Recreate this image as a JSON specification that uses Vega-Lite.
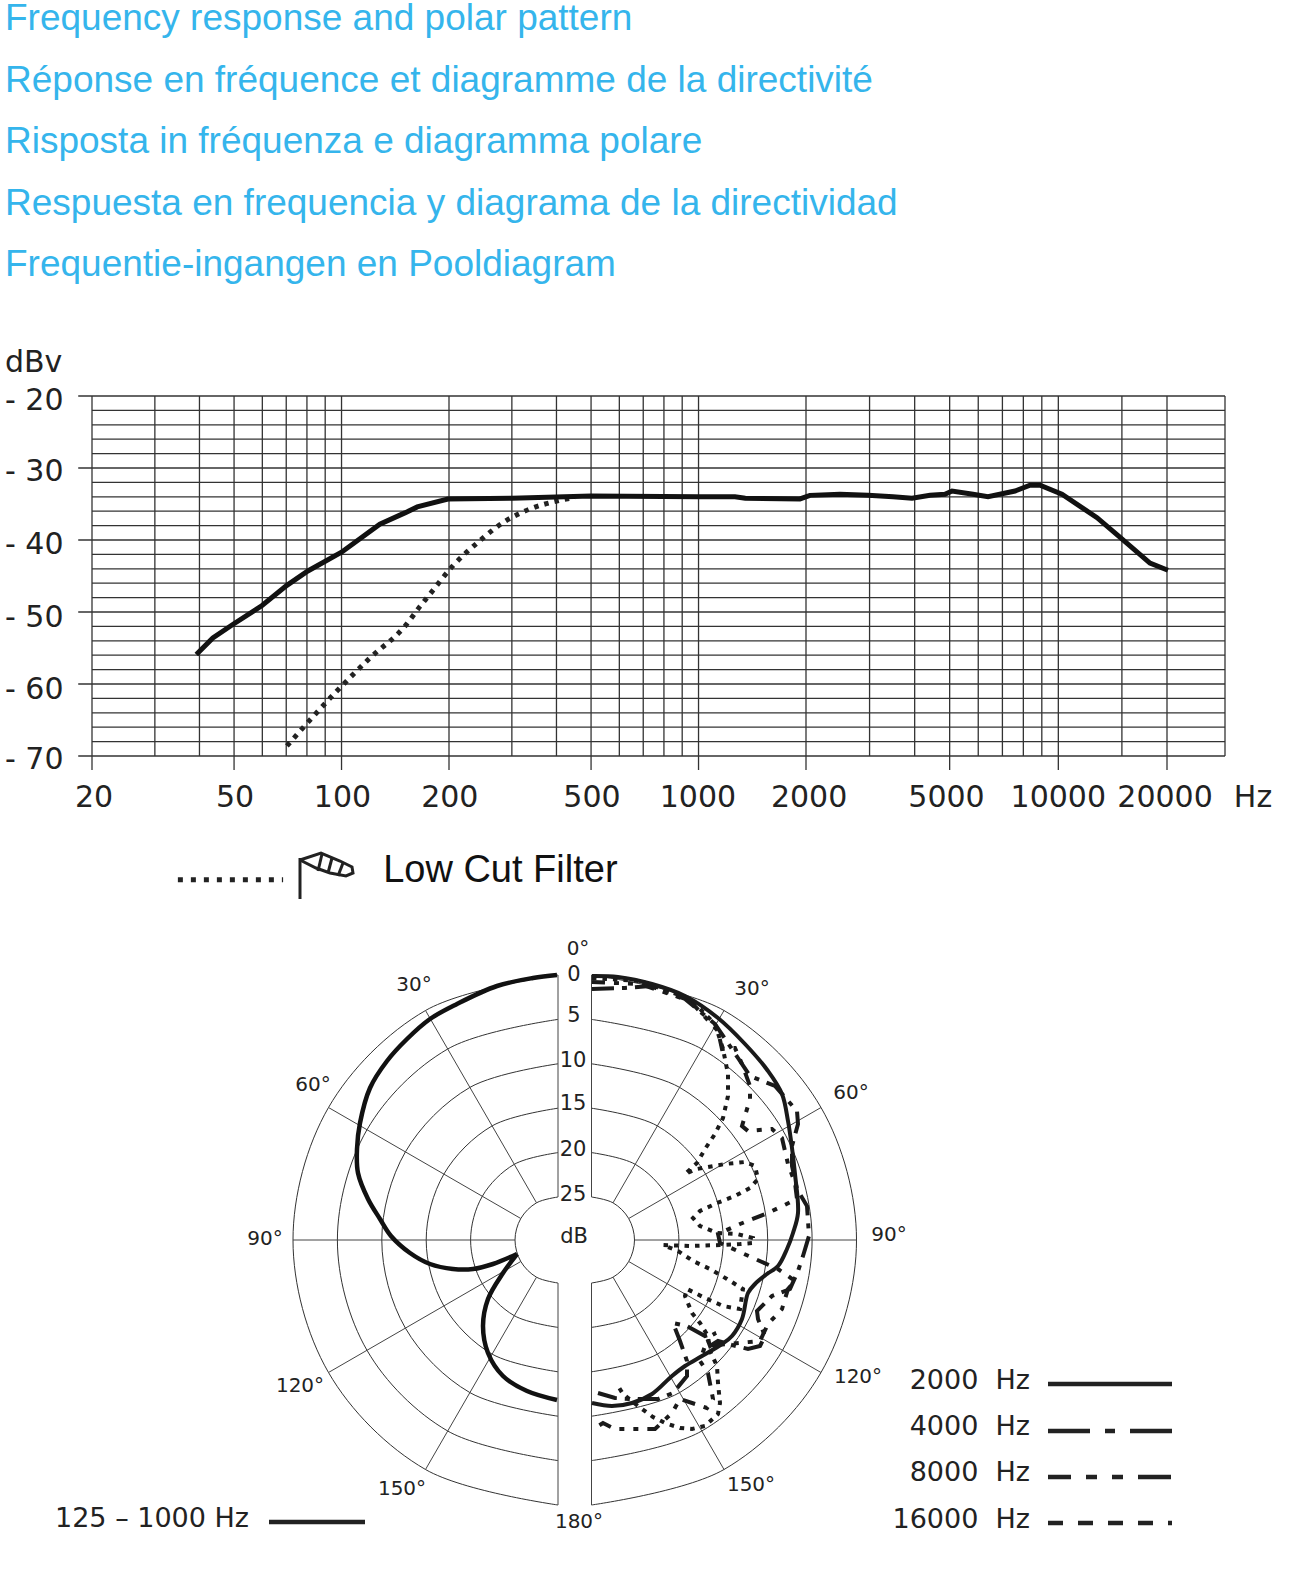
{"$schema":"https://vega.github.io/schema/vega-lite/v6.json","width":1299,"height":1270,"padding":0,"autosize":{"type":"pad","contains":"padding"},"background":"white","config":{"view":{"stroke":null}},
"title":{"text":["Frequency response and polar pattern","Réponse en fréquence et diagramme de la directivité","Risposta in fréquenza e diagramma polare","Respuesta en frequencia y diagrama de la directividad","Frequentie-ingangen en Pooldiagram"],"anchor":"start","frame":"group","font":"Liberation Sans","fontSize":37,"fontWeight":"normal","color":"#35B5EC","lineHeight":61.5,"dx":5,"offset":12},
"resolve":{"scale":{"x":"independent","y":"independent"}},
"layer":[
{"layer":[
{"data":{"values":[{"db":-20,"left":18.3,"right":29000},{"db":-22,"left":20,"right":29000},{"db":-24,"left":20,"right":29000},{"db":-26,"left":20,"right":29000},{"db":-28,"left":20,"right":29000},{"db":-30,"left":18.3,"right":29000},{"db":-32,"left":20,"right":29000},{"db":-34,"left":20,"right":29000},{"db":-36,"left":20,"right":29000},{"db":-38,"left":20,"right":29000},{"db":-40,"left":18.3,"right":29000},{"db":-42,"left":20,"right":29000},{"db":-44,"left":20,"right":29000},{"db":-46,"left":20,"right":29000},{"db":-48,"left":20,"right":29000},{"db":-50,"left":18.3,"right":29000},{"db":-52,"left":20,"right":29000},{"db":-54,"left":20,"right":29000},{"db":-56,"left":20,"right":29000},{"db":-58,"left":20,"right":29000},{"db":-60,"left":18.3,"right":29000},{"db":-62,"left":20,"right":29000},{"db":-64,"left":20,"right":29000},{"db":-66,"left":20,"right":29000},{"db":-68,"left":20,"right":29000},{"db":-70,"left":18.3,"right":29000}]},
"mark":{"type":"rule","color":"#333333","strokeWidth":1.3},
"encoding":{"x":{"field":"left","type":"quantitative","axis":null,"scale":{"type":"log","domain":[20,2000,20000,29000],"range":[92,806,1167,1225]}},"x2":{"field":"right"},"y":{"field":"db","type":"quantitative","axis":null,"scale":{"domain":[-70,-20],"range":[460,100]}}}},
{"data":{"values":[{"f":20,"top":-20,"bottom":-71.94},{"f":30,"top":-20,"bottom":-70},{"f":40,"top":-20,"bottom":-70},{"f":50,"top":-20,"bottom":-71.94},{"f":60,"top":-20,"bottom":-70},{"f":70,"top":-20,"bottom":-70},{"f":80,"top":-20,"bottom":-70},{"f":90,"top":-20,"bottom":-70},{"f":100,"top":-20,"bottom":-71.94},{"f":200,"top":-20,"bottom":-71.94},{"f":300,"top":-20,"bottom":-70},{"f":400,"top":-20,"bottom":-70},{"f":500,"top":-20,"bottom":-71.94},{"f":600,"top":-20,"bottom":-70},{"f":700,"top":-20,"bottom":-70},{"f":800,"top":-20,"bottom":-70},{"f":900,"top":-20,"bottom":-70},{"f":1000,"top":-20,"bottom":-71.94},{"f":2000,"top":-20,"bottom":-71.94},{"f":3000,"top":-20,"bottom":-70},{"f":4000,"top":-20,"bottom":-70},{"f":5000,"top":-20,"bottom":-71.94},{"f":6000,"top":-20,"bottom":-70},{"f":7000,"top":-20,"bottom":-70},{"f":8000,"top":-20,"bottom":-70},{"f":9000,"top":-20,"bottom":-70},{"f":10000,"top":-20,"bottom":-71.94},{"f":15000,"top":-20,"bottom":-70},{"f":20000,"top":-20,"bottom":-71.94},{"f":29000,"top":-20,"bottom":-70}]},
"mark":{"type":"rule","color":"#333333","strokeWidth":1.3},
"encoding":{"x":{"field":"f","type":"quantitative","axis":null,"scale":{"type":"log","domain":[20,2000,20000,29000],"range":[92,806,1167,1225]}},"y":{"field":"top","type":"quantitative","axis":null,"scale":{"domain":[-70,-20],"range":[460,100]}},"y2":{"field":"bottom"}}},
{"data":{"values":[{"f":70.3,"db":-68.6},{"f":97.8,"db":-60.8},{"f":120,"db":-56.4},{"f":151,"db":-51.9},{"f":166,"db":-49.2},{"f":175,"db":-47.8},{"f":205,"db":-43.6},{"f":244,"db":-40.1},{"f":287,"db":-37.4},{"f":337,"db":-35.7},{"f":409,"db":-34.5},{"f":451,"db":-34.1}]},
"mark":{"type":"line","color":"#222222","strokeWidth":5,"strokeDash":[4.5,6],"interpolate":"monotone"},
"encoding":{"x":{"field":"f","type":"quantitative","axis":null,"scale":{"type":"log","domain":[20,2000,20000,29000],"range":[92,806,1167,1225]}},"y":{"field":"db","type":"quantitative","axis":null,"scale":{"domain":[-70,-20],"range":[460,100]}}}},
{"data":{"values":[{"f":39.2,"db":-55.9},{"f":43.6,"db":-53.6},{"f":49.7,"db":-51.7},{"f":59.9,"db":-49.1},{"f":70.3,"db":-46.3},{"f":80.5,"db":-44.3},{"f":100,"db":-41.7},{"f":128,"db":-37.8},{"f":151,"db":-36.2},{"f":163,"db":-35.4},{"f":198.6,"db":-34.3},{"f":300,"db":-34.2},{"f":500,"db":-33.9},{"f":1000,"db":-34},{"f":1265,"db":-34},{"f":1352,"db":-34.2},{"f":1923,"db":-34.3},{"f":2051,"db":-33.8},{"f":2484,"db":-33.65},{"f":2969,"db":-33.8},{"f":3484,"db":-34},{"f":3933,"db":-34.2},{"f":4412,"db":-33.8},{"f":4853,"db":-33.65},{"f":5076,"db":-33.2},{"f":5804,"db":-33.65},{"f":6386,"db":-34},{"f":7586,"db":-33.2},{"f":8348,"db":-32.4},{"f":8899,"db":-32.4},{"f":10234,"db":-33.65},{"f":12800,"db":-36.9},{"f":14640,"db":-39.4},{"f":17940,"db":-43.2},{"f":20120,"db":-44.2}]},
"mark":{"type":"line","color":"#111111","strokeWidth":5},
"encoding":{"x":{"field":"f","type":"quantitative","axis":null,"scale":{"type":"log","domain":[20,2000,20000,29000],"range":[92,806,1167,1225]}},"y":{"field":"db","type":"quantitative","axis":null,"scale":{"domain":[-70,-20],"range":[460,100]}}}},
{"data":{"values":[{"label":"20","f":20.26,"db":-75.8},{"label":"50","f":50.3,"db":-75.8},{"label":"100","f":100.6,"db":-75.8},{"label":"200","f":201,"db":-75.8},{"label":"500","f":503,"db":-75.8},{"label":"1000","f":996,"db":-75.8},{"label":"2000","f":2040,"db":-75.8},{"label":"5000","f":4900,"db":-75.8},{"label":"10000","f":10000,"db":-75.8},{"label":"20000","f":19750,"db":-75.8},{"label":"Hz","f":34700,"db":-75.8}]},
"mark":{"type":"text","font":"DejaVu Sans","fontSize":30,"color":"#222222","align":"center","baseline":"middle"},
"encoding":{"x":{"field":"f","type":"quantitative","axis":null,"scale":{"type":"log","domain":[20,2000,20000,29000],"range":[92,806,1167,1225]}},"y":{"field":"db","type":"quantitative","axis":null,"scale":{"domain":[-70,-20],"range":[460,100]}},"text":{"field":"label","type":"nominal"}}},
{"data":{"values":[{"label":"dBv","f":20,"db":-15.4},{"label":"- 20","f":20,"db":-20.7},{"label":"- 30","f":20,"db":-30.55},{"label":"- 40","f":20,"db":-40.7},{"label":"- 50","f":20,"db":-50.8},{"label":"- 60","f":20,"db":-60.8},{"label":"- 70","f":20,"db":-70.55}]},
"mark":{"type":"text","font":"DejaVu Sans","fontSize":30,"color":"#222222","align":"left","baseline":"middle","dx":-87},
"encoding":{"x":{"field":"f","type":"quantitative","axis":null,"scale":{"type":"log","domain":[20,2000,20000,29000],"range":[92,806,1167,1225]}},"y":{"field":"db","type":"quantitative","axis":null,"scale":{"domain":[-70,-20],"range":[460,100]}},"text":{"field":"label","type":"nominal"}}},
{"data":{"values":[{"f":34.8,"f2":68.6,"db":-87.2}]},
"mark":{"type":"rule","color":"#222222","strokeWidth":5,"strokeDash":[5,8]},
"encoding":{"x":{"field":"f","type":"quantitative","axis":null,"scale":{"type":"log","domain":[20,2000,20000,29000],"range":[92,806,1167,1225]}},"x2":{"field":"f2"},"y":{"field":"db","type":"quantitative","axis":null,"scale":{"domain":[-70,-20],"range":[460,100]}}}},
{"data":{"values":[{"label":"Low Cut Filter","f":130.8,"db":-86}]},
"mark":{"type":"text","font":"Liberation Sans","fontSize":38,"color":"#111111","align":"left","baseline":"middle"},
"encoding":{"x":{"field":"f","type":"quantitative","axis":null,"scale":{"type":"log","domain":[20,2000,20000,29000],"range":[92,806,1167,1225]}},"y":{"field":"db","type":"quantitative","axis":null,"scale":{"domain":[-70,-20],"range":[460,100]}},"text":{"field":"label","type":"nominal"}}}
]},
{"layer":[
{"data":{"values":[
{"s":"R0","x":16.5,"y":265},{"s":"R0","x":149,"y":229.5},{"s":"R0","x":246,"y":132.5},{"s":"R0","x":281.5,"y":0},{"s":"R0","x":246,"y":-132.5},{"s":"R0","x":149,"y":-229.5},{"s":"R0","x":16.5,"y":-265},
{"s":"R5","x":16.5,"y":220.6},{"s":"R5","x":126.8,"y":191},{"s":"R5","x":207.5,"y":110.3},{"s":"R5","x":237.1,"y":0},{"s":"R5","x":207.5,"y":-110.3},{"s":"R5","x":126.8,"y":-191},{"s":"R5","x":16.5,"y":-220.6},
{"s":"R10","x":16.5,"y":176.2},{"s":"R10","x":104.6,"y":152.6},{"s":"R10","x":169.1,"y":88.1},{"s":"R10","x":192.7,"y":0},{"s":"R10","x":169.1,"y":-88.1},{"s":"R10","x":104.6,"y":-152.6},{"s":"R10","x":16.5,"y":-176.2},
{"s":"R15","x":16.5,"y":131.8},{"s":"R15","x":82.4,"y":114.1},{"s":"R15","x":130.6,"y":65.9},{"s":"R15","x":148.3,"y":0},{"s":"R15","x":130.6,"y":-65.9},{"s":"R15","x":82.4,"y":-114.1},{"s":"R15","x":16.5,"y":-131.8},
{"s":"R20","x":16.5,"y":87.4},{"s":"R20","x":60.2,"y":75.7},{"s":"R20","x":92.2,"y":43.7},{"s":"R20","x":103.9,"y":0},{"s":"R20","x":92.2,"y":-43.7},{"s":"R20","x":60.2,"y":-75.7},{"s":"R20","x":16.5,"y":-87.4},
{"s":"R25","x":16.5,"y":43},{"s":"R25","x":38,"y":37.2},{"s":"R25","x":53.7,"y":21.5},{"s":"R25","x":59.5,"y":0},{"s":"R25","x":53.7,"y":-21.5},{"s":"R25","x":38,"y":-37.2},{"s":"R25","x":16.5,"y":-43},
{"s":"L0","x":-17,"y":265},{"s":"L0","x":-149.5,"y":229.5},{"s":"L0","x":-246.5,"y":132.5},{"s":"L0","x":-282,"y":0},{"s":"L0","x":-246.5,"y":-132.5},{"s":"L0","x":-149.5,"y":-229.5},{"s":"L0","x":-17,"y":-265},
{"s":"L5","x":-17,"y":220.6},{"s":"L5","x":-127.3,"y":191},{"s":"L5","x":-208,"y":110.3},{"s":"L5","x":-237.6,"y":0},{"s":"L5","x":-208,"y":-110.3},{"s":"L5","x":-127.3,"y":-191},{"s":"L5","x":-17,"y":-220.6},
{"s":"L10","x":-17,"y":176.2},{"s":"L10","x":-105.1,"y":152.6},{"s":"L10","x":-169.6,"y":88.1},{"s":"L10","x":-193.2,"y":0},{"s":"L10","x":-169.6,"y":-88.1},{"s":"L10","x":-105.1,"y":-152.6},{"s":"L10","x":-17,"y":-176.2},
{"s":"L15","x":-17,"y":131.8},{"s":"L15","x":-82.9,"y":114.1},{"s":"L15","x":-131.1,"y":65.9},{"s":"L15","x":-148.8,"y":0},{"s":"L15","x":-131.1,"y":-65.9},{"s":"L15","x":-82.9,"y":-114.1},{"s":"L15","x":-17,"y":-131.8},
{"s":"L20","x":-17,"y":87.4},{"s":"L20","x":-60.7,"y":75.7},{"s":"L20","x":-92.7,"y":43.7},{"s":"L20","x":-104.4,"y":0},{"s":"L20","x":-92.7,"y":-43.7},{"s":"L20","x":-60.7,"y":-75.7},{"s":"L20","x":-17,"y":-87.4},
{"s":"L25","x":-17,"y":43},{"s":"L25","x":-38.5,"y":37.2},{"s":"L25","x":-54.2,"y":21.5},{"s":"L25","x":-60,"y":0},{"s":"L25","x":-54.2,"y":-21.5},{"s":"L25","x":-38.5,"y":-37.2},{"s":"L25","x":-17,"y":-43}]},
"mark":{"type":"line","color":"#333333","strokeWidth":1,"interpolate":"catmull-rom"},
"encoding":{"x":{"field":"x","type":"quantitative","axis":null,"scale":{"domain":[-300,300],"range":[275,875]}},"y":{"field":"y","type":"quantitative","axis":null,"scale":{"domain":[-300,300],"range":[1244,644]}},"detail":{"field":"s"},"order":{"value":null}}},
{"data":{"values":[{"x":38,"y":37.2,"x2":149,"y2":229.5},{"x":53.7,"y":21.5,"x2":246,"y2":132.5},{"x":59.5,"y":0,"x2":281.5,"y2":0},{"x":53.7,"y":-21.5,"x2":246,"y2":-132.5},{"x":38,"y":-37.2,"x2":149,"y2":-229.5},{"x":-38.5,"y":37.2,"x2":-149.5,"y2":229.5},{"x":-54.2,"y":21.5,"x2":-246.5,"y2":132.5},{"x":-60,"y":0,"x2":-282,"y2":0},{"x":-54.2,"y":-21.5,"x2":-246.5,"y2":-132.5},{"x":-38.5,"y":-37.2,"x2":-149.5,"y2":-229.5},{"x":16.5,"y":43,"x2":16.5,"y2":265},{"x":16.5,"y":-43,"x2":16.5,"y2":-265},{"x":-17,"y":43,"x2":-17,"y2":265},{"x":-17,"y":-43,"x2":-17,"y2":-265}]},
"mark":{"type":"rule","color":"#444444","strokeWidth":1},
"encoding":{"x":{"field":"x","type":"quantitative","axis":null,"scale":{"domain":[-300,300],"range":[275,875]}},"x2":{"field":"x2"},"y":{"field":"y","type":"quantitative","axis":null,"scale":{"domain":[-300,300],"range":[1244,644]}},"y2":{"field":"y2"}}},
{"data":{"values":[
{"s":"a","x":-18,"y":265},{"s":"a","x":-42,"y":262},{"s":"a","x":-78,"y":254},{"s":"a","x":-118,"y":236},{"s":"a","x":-145,"y":221},{"s":"a","x":-168,"y":201},{"s":"a","x":-188,"y":179},{"s":"a","x":-205,"y":152},{"s":"a","x":-215,"y":117},{"s":"a","x":-218,"y":91},{"s":"a","x":-217,"y":67},{"s":"a","x":-207,"y":41},{"s":"a","x":-195,"y":21},{"s":"a","x":-184,"y":4},{"s":"a","x":-165,"y":-13},{"s":"a","x":-145,"y":-24},{"s":"a","x":-122,"y":-29},{"s":"a","x":-102,"y":-29},{"s":"a","x":-82,"y":-24},{"s":"a","x":-58,"y":-14},
{"s":"b","x":-58,"y":-14},{"s":"b","x":-72,"y":-33},{"s":"b","x":-87,"y":-59},{"s":"b","x":-92,"y":-86},{"s":"b","x":-87,"y":-113},{"s":"b","x":-72,"y":-136},{"s":"b","x":-48,"y":-151},{"s":"b","x":-18,"y":-160}]},
"mark":{"type":"line","color":"#111111","strokeWidth":4.5,"interpolate":"catmull-rom"},
"encoding":{"x":{"field":"x","type":"quantitative","axis":null,"scale":{"domain":[-300,300],"range":[275,875]}},"y":{"field":"y","type":"quantitative","axis":null,"scale":{"domain":[-300,300],"range":[1244,644]}},"detail":{"field":"s"},"order":{"value":null}}},
{"data":{"values":[
{"x":17,"y":262},{"x":65,"y":259},{"x":115,"y":241},{"x":140,"y":216},{"x":148,"y":191},{"x":153,"y":166},{"x":153,"y":144},{"x":148,"y":122},{"x":140,"y":106},{"x":130,"y":91},{"x":122,"y":77},{"x":110,"y":66},{"x":122,"y":71},{"x":150,"y":76},{"x":170,"y":78},{"x":180,"y":74},{"x":183,"y":61},{"x":175,"y":52},{"x":160,"y":44},{"x":142,"y":37},{"x":125,"y":29},{"x":118,"y":22},{"x":125,"y":14},{"x":142,"y":7},{"x":162,"y":6},{"x":178,"y":2},{"x":178,"y":-3},{"x":165,"y":-4},{"x":145,"y":-5},{"x":115,"y":-6},{"x":88,"y":-5},{"x":103,"y":-11},{"x":118,"y":-21},{"x":135,"y":-29},{"x":152,"y":-39},{"x":168,"y":-49},{"x":165,"y":-69},{"x":148,"y":-66},{"x":130,"y":-58},{"x":112,"y":-49},{"x":110,"y":-56},{"x":117,"y":-73},{"x":125,"y":-83},{"x":133,"y":-96},{"x":135,"y":-111},{"x":142,"y":-126},{"x":143,"y":-143},{"x":145,"y":-163},{"x":143,"y":-174},{"x":130,"y":-186},{"x":117,"y":-189},{"x":105,"y":-188},{"x":90,"y":-183},{"x":78,"y":-177},{"x":63,"y":-166},{"x":48,"y":-154},{"x":43,"y":-146}]},
"mark":{"type":"line","color":"#1a1a1a","strokeWidth":4,"strokeDash":[4.5,6]},
"encoding":{"x":{"field":"x","type":"quantitative","axis":null,"scale":{"domain":[-300,300],"range":[275,875]}},"y":{"field":"y","type":"quantitative","axis":null,"scale":{"domain":[-300,300],"range":[1244,644]}},"order":{"value":null}}},
{"data":{"values":[
{"x":17,"y":258},{"x":65,"y":256},{"x":115,"y":239},{"x":143,"y":209},{"x":147,"y":191},{"x":160,"y":192},{"x":167,"y":176},{"x":175,"y":154},{"x":175,"y":141},{"x":167,"y":114},{"x":173,"y":109},{"x":197,"y":111},{"x":207,"y":102},{"x":213,"y":76},{"x":220,"y":57},{"x":222,"y":41},{"x":193,"y":27},{"x":165,"y":16},{"x":143,"y":6},{"x":145,"y":-3},{"x":178,"y":-18},{"x":203,"y":-29},{"x":220,"y":-41},{"x":213,"y":-49},{"x":207,"y":-69},{"x":193,"y":-84},{"x":185,"y":-101},{"x":130,"y":-106},{"x":125,"y":-121},{"x":133,"y":-133},{"x":138,"y":-159},{"x":132,"y":-168},{"x":105,"y":-159},{"x":97,"y":-173},{"x":80,"y":-189},{"x":40,"y":-189},{"x":28,"y":-183},{"x":20,"y":-188}]},
"mark":{"type":"line","color":"#1a1a1a","strokeWidth":4,"strokeDash":[13,9,5,9,5,9]},
"encoding":{"x":{"field":"x","type":"quantitative","axis":null,"scale":{"domain":[-300,300],"range":[275,875]}},"y":{"field":"y","type":"quantitative","axis":null,"scale":{"domain":[-300,300],"range":[1244,644]}},"order":{"value":null}}},
{"data":{"values":[
{"x":17,"y":251},{"x":50,"y":252},{"x":75,"y":254},{"x":110,"y":241},{"x":140,"y":216},{"x":163,"y":182},{"x":175,"y":164},{"x":200,"y":154},{"x":222,"y":129},{"x":223,"y":116},{"x":217,"y":94},{"x":217,"y":74},{"x":222,"y":51},{"x":232,"y":34},{"x":234,"y":4},{"x":228,"y":-16},{"x":223,"y":-31},{"x":215,"y":-49},{"x":197,"y":-56},{"x":182,"y":-71},{"x":183,"y":-79},{"x":190,"y":-96},{"x":185,"y":-106},{"x":173,"y":-109},{"x":157,"y":-105},{"x":143,"y":-101},{"x":135,"y":-106},{"x":132,"y":-98},{"x":141,"y":-93},{"x":130,"y":-96},{"x":112,"y":-86},{"x":98,"y":-83},{"x":105,"y":-101},{"x":112,"y":-121},{"x":112,"y":-136},{"x":98,"y":-153},{"x":83,"y":-159},{"x":55,"y":-159},{"x":40,"y":-158},{"x":23,"y":-153}]},
"mark":{"type":"line","color":"#1a1a1a","strokeWidth":4,"strokeDash":[22,8,5,8]},
"encoding":{"x":{"field":"x","type":"quantitative","axis":null,"scale":{"domain":[-300,300],"range":[275,875]}},"y":{"field":"y","type":"quantitative","axis":null,"scale":{"domain":[-300,300],"range":[1244,644]}},"order":{"value":null}}},
{"data":{"values":[
{"x":17,"y":264},{"x":43,"y":263},{"x":77,"y":256},{"x":110,"y":244},{"x":143,"y":222},{"x":170,"y":196},{"x":193,"y":169},{"x":207,"y":146},{"x":213,"y":119},{"x":217,"y":92},{"x":220,"y":66},{"x":223,"y":27},{"x":218,"y":7},{"x":212,"y":-9},{"x":203,"y":-26},{"x":192,"y":-34},{"x":180,"y":-44},{"x":173,"y":-53},{"x":167,"y":-79},{"x":157,"y":-96},{"x":147,"y":-104},{"x":127,"y":-116},{"x":110,"y":-126},{"x":97,"y":-136},{"x":77,"y":-154},{"x":57,"y":-163},{"x":37,"y":-166},{"x":17,"y":-163}]},
"mark":{"type":"line","color":"#1a1a1a","strokeWidth":4,"interpolate":"catmull-rom"},
"encoding":{"x":{"field":"x","type":"quantitative","axis":null,"scale":{"domain":[-300,300],"range":[275,875]}},"y":{"field":"y","type":"quantitative","axis":null,"scale":{"domain":[-300,300],"range":[1244,644]}},"order":{"value":null}}},
{"data":{"values":[{"x":473,"x2":597,"y":-144},{"x":-306,"x2":-210,"y":-282}]},
"mark":{"type":"rule","color":"#222222","strokeWidth":4.5},
"encoding":{"x":{"field":"x","type":"quantitative","axis":null,"scale":{"domain":[-300,300],"range":[275,875]}},"x2":{"field":"x2"},"y":{"field":"y","type":"quantitative","axis":null,"scale":{"domain":[-300,300],"range":[1244,644]}}}},
{"data":{"values":[{"x":473,"x2":597,"y":-191}]},
"mark":{"type":"rule","color":"#222222","strokeWidth":4.5,"strokeDash":[42,15,10,15]},
"encoding":{"x":{"field":"x","type":"quantitative","axis":null,"scale":{"domain":[-300,300],"range":[275,875]}},"x2":{"field":"x2"},"y":{"field":"y","type":"quantitative","axis":null,"scale":{"domain":[-300,300],"range":[1244,644]}}}},
{"data":{"values":[{"x":473,"x2":597,"y":-237}]},
"mark":{"type":"rule","color":"#222222","strokeWidth":4.5,"strokeDash":[23,15,11,15,11,15,33]},
"encoding":{"x":{"field":"x","type":"quantitative","axis":null,"scale":{"domain":[-300,300],"range":[275,875]}},"x2":{"field":"x2"},"y":{"field":"y","type":"quantitative","axis":null,"scale":{"domain":[-300,300],"range":[1244,644]}}}},
{"data":{"values":[{"x":473,"x2":597,"y":-283}]},
"mark":{"type":"rule","color":"#222222","strokeWidth":4.5,"strokeDash":[15,15]},
"encoding":{"x":{"field":"x","type":"quantitative","axis":null,"scale":{"domain":[-300,300],"range":[275,875]}},"x2":{"field":"x2"},"y":{"field":"y","type":"quantitative","axis":null,"scale":{"domain":[-300,300],"range":[1244,644]}}}},
{"data":{"values":[{"label":"2000\u00a0\u00a0Hz","x":455,"y":-141},{"label":"4000\u00a0\u00a0Hz","x":455,"y":-187},{"label":"8000\u00a0\u00a0Hz","x":455,"y":-233},{"label":"16000\u00a0\u00a0Hz","x":455,"y":-280},{"label":"125 – 1000 Hz","x":-326,"y":-279}]},
"mark":{"type":"text","font":"DejaVu Sans","fontSize":27,"color":"#222222","align":"right","baseline":"middle"},
"encoding":{"x":{"field":"x","type":"quantitative","axis":null,"scale":{"domain":[-300,300],"range":[275,875]}},"y":{"field":"y","type":"quantitative","axis":null,"scale":{"domain":[-300,300],"range":[1244,644]}},"text":{"field":"label","type":"nominal"}}},
{"data":{"values":[{"label":"0°","x":3,"y":291},{"label":"30°","x":-161,"y":255},{"label":"30°","x":177,"y":251},{"label":"60°","x":-262,"y":155},{"label":"60°","x":276,"y":147},{"label":"90°","x":-310,"y":1},{"label":"90°","x":314,"y":5},{"label":"120°","x":-275,"y":-146},{"label":"120°","x":283,"y":-137},{"label":"150°","x":-173,"y":-249},{"label":"150°","x":176,"y":-245},{"label":"180°","x":4,"y":-282}]},
"mark":{"type":"text","font":"DejaVu Sans","fontSize":20,"color":"#222222","align":"center","baseline":"middle"},
"encoding":{"x":{"field":"x","type":"quantitative","axis":null,"scale":{"domain":[-300,300],"range":[275,875]}},"y":{"field":"y","type":"quantitative","axis":null,"scale":{"domain":[-300,300],"range":[1244,644]}},"text":{"field":"label","type":"nominal"}}},
{"data":{"values":[{"label":"0","x":-1,"y":265},{"label":"5","x":-1,"y":224},{"label":"10","x":-2,"y":179},{"label":"15","x":-2,"y":136},{"label":"20","x":-2,"y":90},{"label":"25","x":-2,"y":45},{"label":"dB","x":-1,"y":3}]},
"mark":{"type":"text","font":"DejaVu Sans","fontSize":21,"color":"#222222","align":"center","baseline":"middle"},
"encoding":{"x":{"field":"x","type":"quantitative","axis":null,"scale":{"domain":[-300,300],"range":[275,875]}},"y":{"field":"y","type":"quantitative","axis":null,"scale":{"domain":[-300,300],"range":[1244,644]}},"text":{"field":"label","type":"nominal"}}},
{"data":{"values":[
{"s":"pole","x":-275,"y":382},{"s":"pole","x":-275,"y":341},
{"s":"sock","x":-275,"y":380},{"s":"sock","x":-254,"y":387},{"s":"sock","x":-235,"y":379},{"s":"sock","x":-223,"y":373},{"s":"sock","x":-222,"y":367},{"s":"sock","x":-229,"y":364},{"s":"sock","x":-245,"y":367},{"s":"sock","x":-259,"y":372},{"s":"sock","x":-275,"y":380},
{"s":"b1","x":-253,"y":386},{"s":"b1","x":-257,"y":369},{"s":"b2","x":-243,"y":382},{"s":"b2","x":-247,"y":367},{"s":"b3","x":-232,"y":377},{"s":"b3","x":-237,"y":364}]},
"mark":{"type":"line","color":"#222222","strokeWidth":3},
"encoding":{"x":{"field":"x","type":"quantitative","axis":null,"scale":{"domain":[-300,300],"range":[275,875]}},"y":{"field":"y","type":"quantitative","axis":null,"scale":{"domain":[-300,300],"range":[1244,644]}},"detail":{"field":"s"},"order":{"value":null}}}
]}
]}
